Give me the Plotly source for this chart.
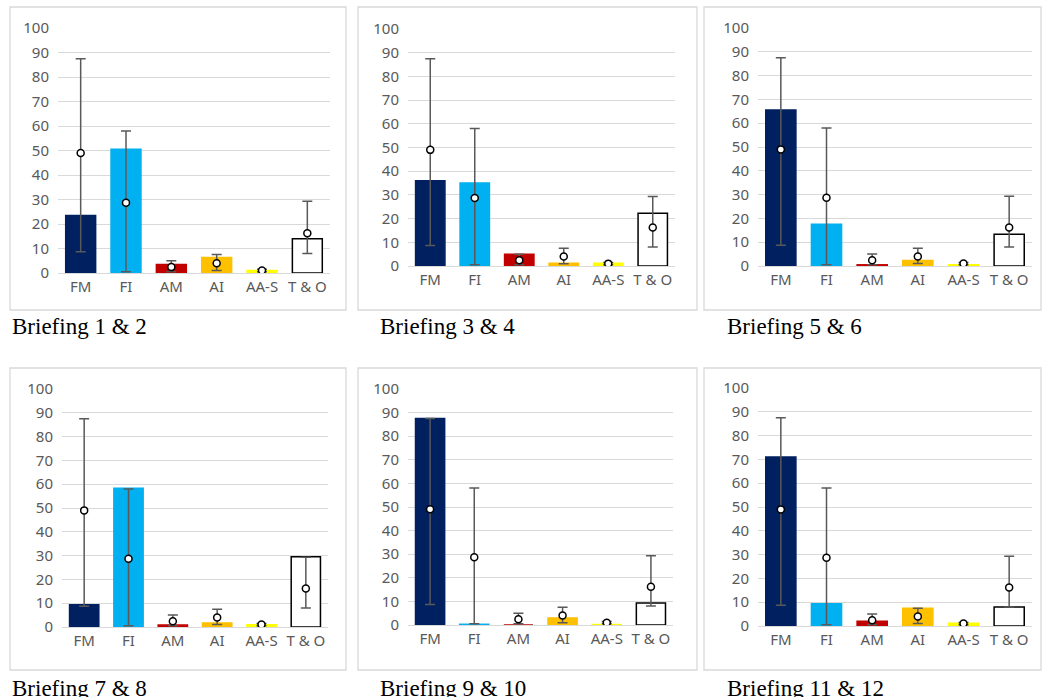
import plotly.graph_objects as go

W, H = 1044, 697

categories = ["FM", "FI", "AM", "AI", "AA-S", "T & O"]
panel_titles = ["Briefing 1 & 2", "Briefing 3 & 4", "Briefing 5 & 6",
                "Briefing 7 & 8", "Briefing 9 & 10", "Briefing 11 & 12"]

# bar values per briefing pair
b1_2 = [23.5, 50.5, 3.5, 6.3, 1.0, 14.0]
b3_4 = [36.0, 35.0, 5.0, 1.2, 1.2, 22.3]
b5_6 = [65.5, 17.5, 0.5, 2.3, 0.5, 13.3]
b7_8 = [9.3, 58.3, 0.8, 1.7, 0.9, 29.5]
b9_10 = [87.5, 0.3, 0.0, 3.0, 0.2, 9.3]
b11_12 = [71.0, 9.3, 2.0, 7.5, 1.2, 8.0]
panels = [b1_2, b3_4, b5_6, b7_8, b9_10, b11_12]

# overall mean and range (same in every panel)
mean_vals = [49.0, 28.7, 2.4, 4.0, 1.0, 16.2]
low_vals = [8.7, 0.5, 0.5, 1.0, 0.5, 8.0]
high_vals = [87.5, 58.0, 5.0, 7.5, 1.5, 29.3]

bar_colors = ["#002060", "#00B0F0", "#C00000", "#FFC000", "#FFFF00", "#FFFFFF"]
bar_line_colors = ["#002060", "#00B0F0", "#C00000", "#FFC000", "#FFFF00", "#000000"]

# layout (pixels)
plot_areas = [(58, 330, 28, 273), (408, 675, 29, 266), (758, 1032, 28, 266),
              (62, 328, 389, 627), (408, 673, 389, 625), (758, 1032, 388, 626)]
boxes = [(10, 346, 7, 310), (358, 697, 7, 310), (704, 1041, 7, 310),
         (10, 346, 368, 670), (358, 697, 368, 670), (704, 1041, 368, 670)]
caption_pos = [(10, 326), (378, 326), (725, 326), (10, 688), (378, 688), (725, 688)]

def px(x):
    return x / W

def py(y):
    return 1 - y / H

fig = go.Figure()
err_plus = [h - m for h, m in zip(high_vals, mean_vals)]
err_minus = [m - l for m, l in zip(mean_vals, low_vals)]

tickfont = dict(family="Noto Sans, Liberation Sans, sans-serif", size=15, color="#595959")
shapes = []
annotations = []
for i, vals in enumerate(panels):
    ax = "" if i == 0 else str(i + 1)
    fig.add_trace(go.Bar(
        x=categories, y=vals, xaxis="x" + ax, yaxis="y" + ax,
        marker=dict(color=bar_colors, line=dict(color=bar_line_colors, width=1.5)),
        showlegend=False, hoverinfo="x+y"))
    fig.add_trace(go.Scatter(
        x=categories, y=mean_vals, xaxis="x" + ax, yaxis="y" + ax, mode="markers",
        marker=dict(color="white", size=7, line=dict(color="black", width=1.5)),
        error_y=dict(type="data", symmetric=False, array=err_plus, arrayminus=err_minus,
                     color="#595959", thickness=1.5, width=5),
        showlegend=False))
    x0, x1, y0, y1 = plot_areas[i]
    fig.layout["xaxis" + ax] = dict(
        domain=[px(x0), px(x1)], anchor="y" + ax, type="category",
        showline=True, linecolor="#d9d9d9", linewidth=1, ticks="",
        tickfont=tickfont, showgrid=False, zeroline=False, fixedrange=True,
        automargin=False)
    fig.layout["yaxis" + ax] = dict(
        domain=[py(y1), py(y0)], anchor="x" + ax, range=[0, 100], dtick=10,
        showgrid=True, gridcolor="#d9d9d9", gridwidth=1, zeroline=False,
        showline=False, ticks="", tickfont=tickfont, ticklabelstandoff=8,
        fixedrange=True, automargin=False)
    bx0, bx1, by0, by1 = boxes[i]
    shapes.append(dict(type="rect", xref="paper", yref="paper",
                       x0=px(bx0), x1=px(bx1), y0=py(by1), y1=py(by0),
                       line=dict(color="#d9d9d9", width=1.3), fillcolor="rgba(0,0,0,0)",
                       layer="below"))
    cx, cy = caption_pos[i]
    annotations.append(dict(text=panel_titles[i], xref="paper", yref="paper",
                            x=px(cx), y=py(cy), xanchor="left", yanchor="middle",
                            showarrow=False,
                            font=dict(family="Liberation Serif, Times New Roman, serif",
                                      size=23, color="black")))

fig.update_layout(width=W, height=H, margin=dict(l=0, r=0, t=0, b=0, autoexpand=False),
                  paper_bgcolor="white", plot_bgcolor="white", bargap=0.34,
                  shapes=shapes, annotations=annotations, showlegend=False)

fig.write_html("out.html", config={"displayModeBar": False},
               post_script="document.body.style.margin='0';document.body.style.padding='0';")
